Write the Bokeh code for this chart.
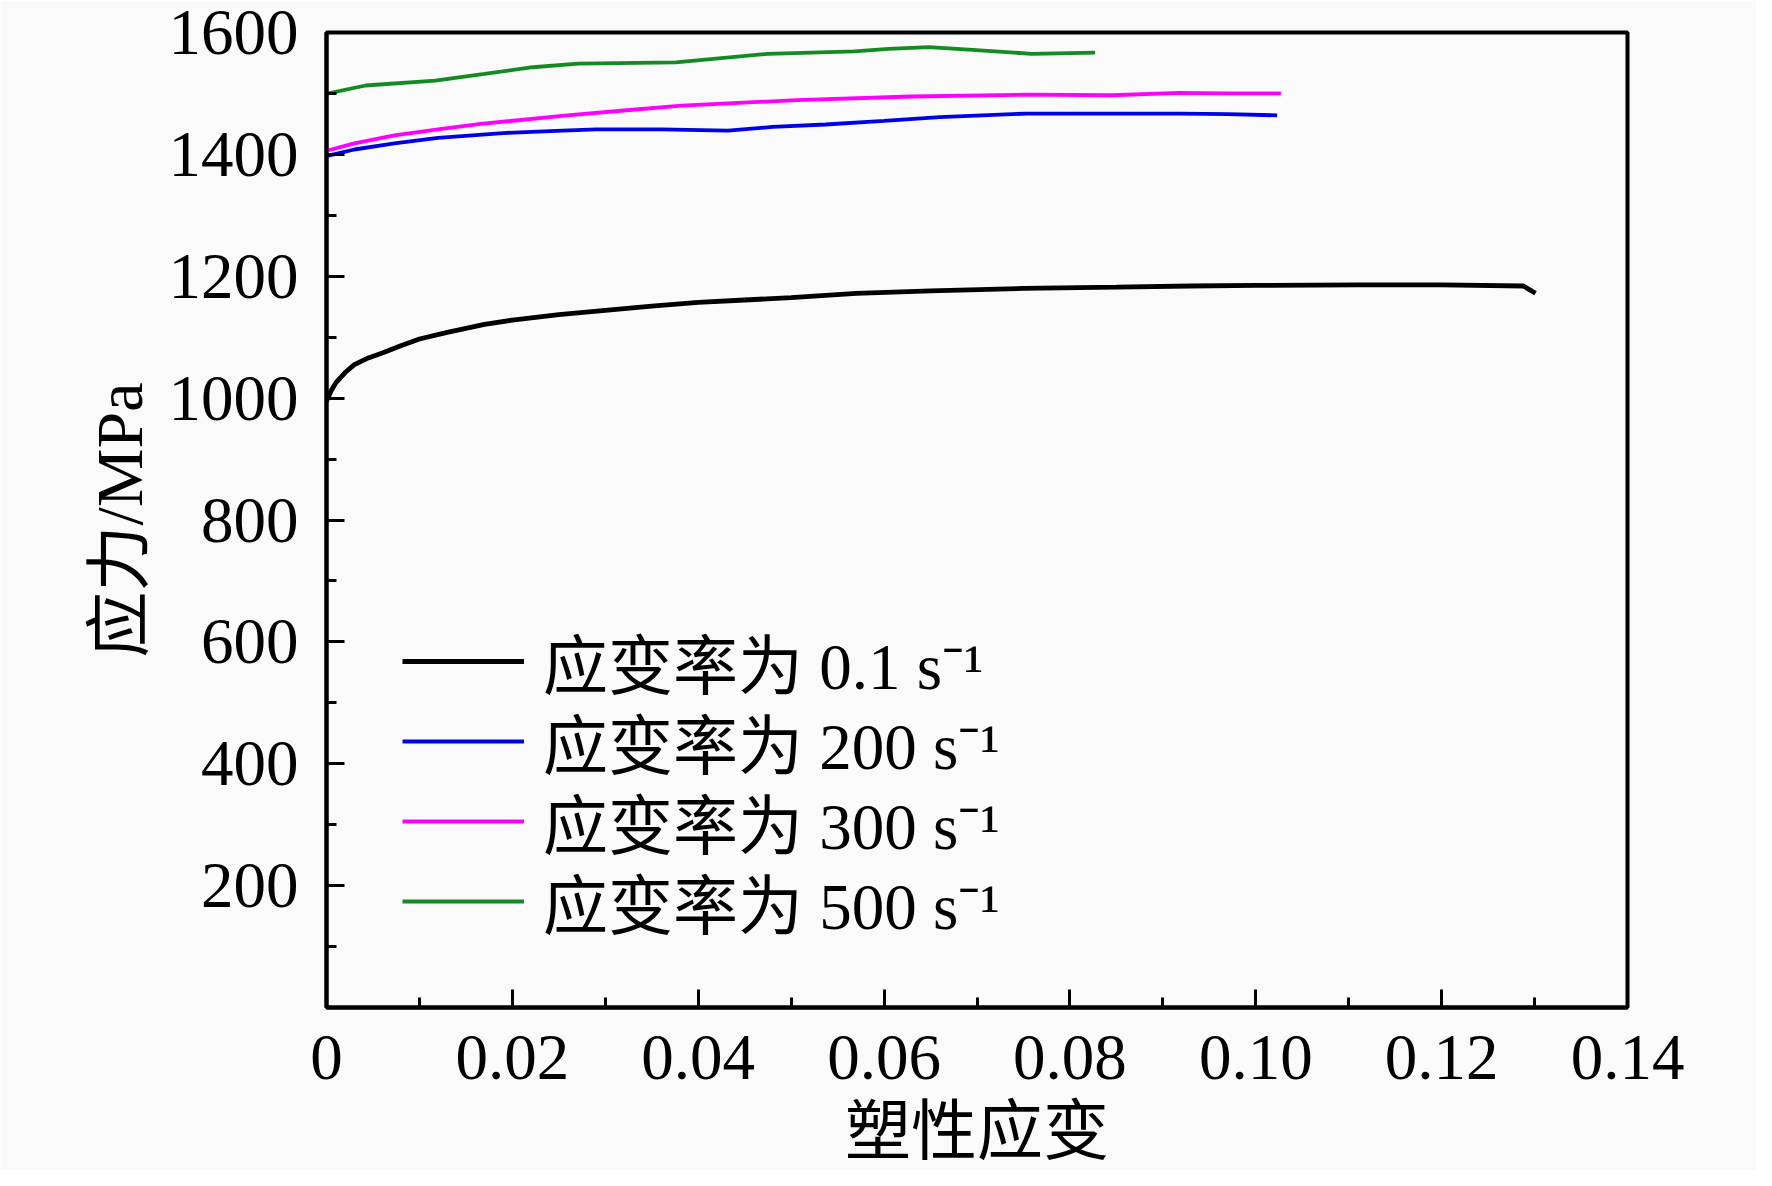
from bokeh.plotting import figure
from bokeh.models import Range1d, FixedTicker, Legend, LegendItem
from bokeh.embed import file_html
from bokeh.resources import INLINE

# ---- data ----
x_01 = [0.0, 0.0005, 0.001, 0.002, 0.003, 0.0045, 0.006, 0.008, 0.010, 0.013, 0.017, 0.020,
        0.025, 0.030, 0.035, 0.040, 0.045, 0.050, 0.057, 0.065, 0.075, 0.085, 0.093, 0.100,
        0.111, 0.120, 0.1288, 0.1301]
y_01 = [995, 1012, 1025, 1042, 1055, 1066, 1074, 1086, 1097, 1108, 1121, 1128,
        1137, 1144, 1151, 1157, 1161, 1165, 1172, 1176, 1180, 1182, 1184, 1185,
        1186, 1186, 1184, 1172]

x_200 = [0.0, 0.0002, 0.003, 0.0073, 0.012, 0.019, 0.024, 0.029, 0.036, 0.0432, 0.048,
         0.0537, 0.060, 0.066, 0.0753, 0.082, 0.0918, 0.097, 0.1023]
y_200 = [1400, 1398, 1408, 1418, 1427, 1435, 1438, 1441, 1441, 1439, 1445,
         1449, 1455, 1461, 1467, 1467, 1467, 1466, 1464]

x_300 = [0.0, 0.003, 0.0073, 0.012, 0.0166, 0.0259, 0.032, 0.0382, 0.0506, 0.0629,
         0.0753, 0.0845, 0.0918, 0.097, 0.1027]
y_300 = [1406, 1418, 1431, 1441, 1450, 1464, 1472, 1480, 1489, 1495,
         1498, 1497, 1501, 1500, 1500]

x_500 = [0.0, 0.0002, 0.0042, 0.0117, 0.017, 0.0222, 0.0271, 0.0376, 0.0475, 0.0568,
         0.0605, 0.0648, 0.0691, 0.0759, 0.0827]
y_500 = [1500, 1500, 1513, 1521, 1532, 1543, 1549, 1551, 1565, 1569,
         1573, 1576, 1572, 1565, 1567]

series_labels = ["应变率为 0.1 s⁻¹", "应变率为 200 s⁻¹", "应变率为 300 s⁻¹", "应变率为 500 s⁻¹"]
series_colors = ["#000000", "#0000e6", "#ff00ff", "#138a22"]

x_ticks = [0, 0.02, 0.04, 0.06, 0.08, 0.10, 0.12, 0.14]
x_tick_labels = ["0", "0.02", "0.04", "0.06", "0.08", "0.10", "0.12", "0.14"]
x_minor = [0.01, 0.03, 0.05, 0.07, 0.09, 0.11, 0.13]
y_ticks = [200, 400, 600, 800, 1000, 1200, 1400, 1600]
y_minor = [100, 300, 500, 700, 900, 1100, 1300, 1500]

x_title = "塑性应变"
y_title = "应力/MPa"

FONT = "Liberation Serif, Noto Sans CJK SC"
NUM_FONT = "Liberation Serif"
BG = "#fafafa"

p = figure(width=1756, height=1170, output_backend="svg", toolbar_location=None,
           x_range=Range1d(0, 0.14), y_range=Range1d(0, 1600),
           min_border_left=326, min_border_right=129, min_border_top=32, min_border_bottom=162,
           background_fill_color=BG, border_fill_color=BG)
p.grid.visible = False
p.outline_line_color = "black"
p.outline_line_width = 4

xs = [x_01, x_200, x_300, x_500]
ys = [y_01, y_200, y_300, y_500]
widths = [4.8, 3.8, 3.8, 3.8]
renderers = []
for xv, yv, c, w in zip(xs, ys, series_colors, widths):
    renderers.append(p.line(xv, yv, line_color=c, line_width=w))

p.xaxis.ticker = FixedTicker(ticks=x_ticks, minor_ticks=x_minor)
p.xaxis.major_label_overrides = {t: l for t, l in zip(x_ticks, x_tick_labels)}
p.yaxis.ticker = FixedTicker(ticks=y_ticks, minor_ticks=y_minor)

for ax in (p.xaxis[0], p.yaxis[0]):
    ax.axis_line_width = 4
    ax.axis_line_color = "black"
    ax.major_tick_in = 18
    ax.major_tick_out = 0
    ax.minor_tick_in = 10
    ax.minor_tick_out = 0
    ax.major_tick_line_width = 3
    ax.minor_tick_line_width = 3
    ax.major_label_text_font = NUM_FONT
    ax.major_label_text_font_size = "65px"
    ax.major_label_text_color = "black"
    ax.axis_label_text_font = FONT
    ax.axis_label_text_font_size = "66px"
    ax.axis_label_text_font_style = "normal"
    ax.axis_label_text_color = "black"

p.xaxis.axis_label = x_title
p.yaxis.axis_label = y_title
p.xaxis.major_label_standoff = 28
p.xaxis.axis_label_standoff = 13
p.yaxis.major_label_standoff = 28
p.yaxis.axis_label_standoff = 10

# one legend box per row so the row pitch matches the reference
legend_y = [299, 219, 139, 59]
for lab, r, ly in zip(series_labels, renderers, legend_y):
    lg = Legend(items=[LegendItem(label=lab, renderers=[r])], location=(76, ly),
                background_fill_alpha=0, border_line_alpha=0,
                padding=0, margin=0, spacing=0,
                glyph_width=122, glyph_height=40, label_standoff=19,
                label_text_font=FONT, label_text_font_size="65px", label_text_color="black")
    p.add_layout(lg)

open("out.html", "w").write(file_html(p, INLINE))
